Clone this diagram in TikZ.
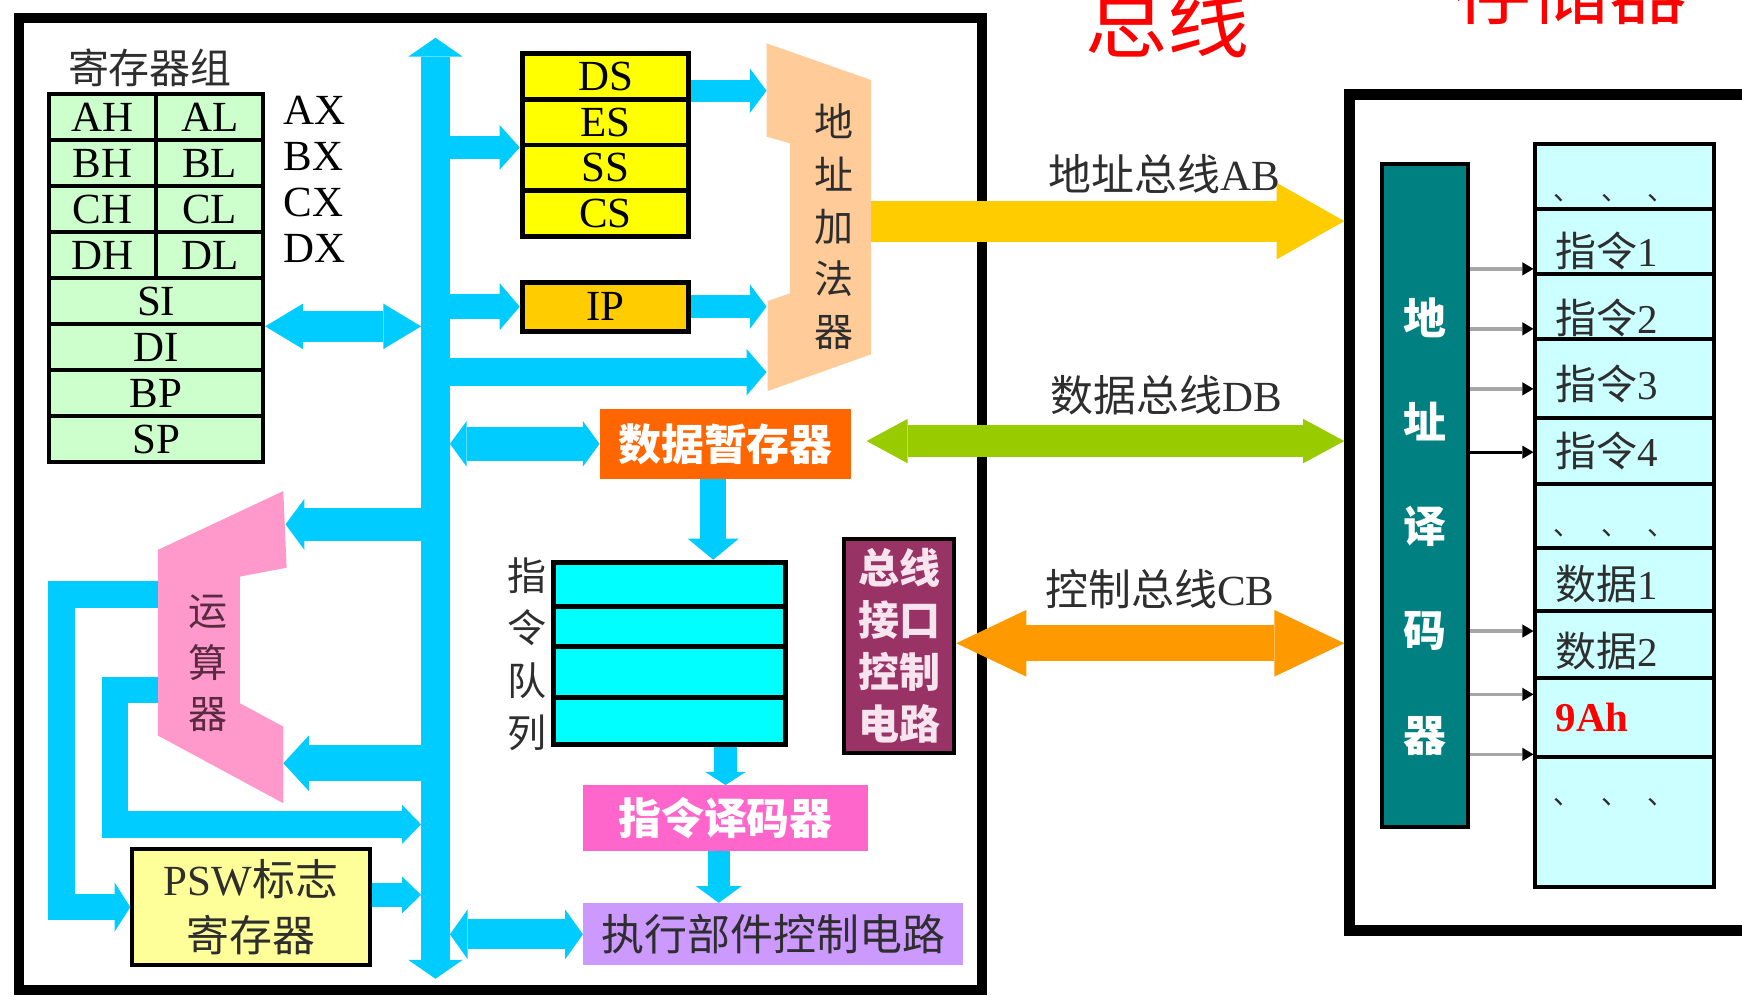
\documentclass[tikz,border=0pt]{standalone}
\usepackage{fontspec}
\setmainfont{Liberation Serif}
\newfontfamily\cjk{Noto Sans CJK SC}
\usetikzlibrary{arrows.meta}

\definecolor{buscyan}{HTML}{00CCFF}
\definecolor{reggreen}{HTML}{CCFFCC}
\definecolor{segyellow}{HTML}{FFFF00}
\definecolor{ipgold}{HTML}{FFCC00}
\definecolor{adderpeach}{HTML}{FFCC99}
\definecolor{alupink}{HTML}{FF99CC}
\definecolor{aluink}{HTML}{5A2A40}
\definecolor{pswyellow}{HTML}{FFFF99}
\definecolor{dregorange}{HTML}{FF6600}
\definecolor{queuecyan}{HTML}{00FFFF}
\definecolor{bicmagenta}{HTML}{993366}
\definecolor{bictext}{HTML}{F8E4EE}
\definecolor{idecpink}{HTML}{FF66CC}
\definecolor{execviolet}{HTML}{CC99FF}
\definecolor{abgold}{HTML}{FFCC00}
\definecolor{dbgreen}{HTML}{99CC00}
\definecolor{cborange}{HTML}{FF9900}
\definecolor{decteal}{HTML}{008080}
\definecolor{cellcyan}{HTML}{CCFFFF}
\definecolor{txtgray}{HTML}{2E2E2E}

\newcommand{\zh}[1]{{\cjk #1}}
\newcommand{\fsz}[2]{\fontsize{#1}{#2}\selectfont}

\begin{document}
\begin{tikzpicture}[x=0.02cm,y=-0.02cm]

    \tikzset{
      blk/.style={inner sep=0pt, align=center},
      reg/.style={blk, draw, line width=2pt, fill=reggreen,
        minimum width=1.93cm, minimum height=0.828cm, font=\fsz{22}{22}},
      widereg/.style={reg, minimum width=3.86cm},
      seg/.style={blk, draw, line width=2.5pt, fill=segyellow,
        minimum width=3cm, minimum height=0.825cm, font=\fsz{22}{22}},
      cell/.style={blk, draw, line width=2pt, fill=cellcyan, minimum width=3.22cm},
      vtext/.style={blk, text=txtgray, font=\cjk\fsz{20}{26.8}},
      buslbl/.style={blk, text=txtgray, font=\fsz{22}{22}},
      onearrow/.style n args={3}{draw=buscyan, line width=#1,
        -{Triangle[length=#2, width=#3, line width=0pt]}},
      twoarrow/.style n args={3}{draw=buscyan, line width=#1,
        {Triangle[length=#2, width=#3, line width=0pt]}-{Triangle[length=#2, width=#3, line width=0pt]}},
      tick/.style={draw=gray!70, line width=0.06cm,
        -{Triangle[length=0.2cm, width=0.24cm, line width=0pt, black]}},
    }

    \useasboundingbox (0,0) rectangle (1568,897);

    % titles
    \node[anchor=base, text=red, font=\cjk\fsz{42}{42}] (tbus) at (1051,46) {总线};
    \node[anchor=base, text=red, font=\cjk\fsz{40}{40}] (tmem) at (1414,17) {存储器};

    % frames
    \node[draw, line width=0.18cm, minimum width=17.34cm, minimum height=17.5cm] (cpu) at (450.5,453.5) {};
    \node[draw, line width=0.2cm, minimum width=7.7cm, minimum height=15.06cm] (mem) at (1407.5,461.5) {};

    % register group
    \node[blk, text=txtgray, font=\cjk\fsz{21}{21}] (rgtitle) at (135,61) {寄存器组};
    \foreach \h/\l/\p [count=\i] in {AH/AL/AX,BH/BL/BX,CH/CL/CX,DH/DL/DX}{
      \node[reg] (\h) at (92.25,{85+41.4*(\i-0.5)}) {\h};
      \node[reg] (\l) at (188.75,{85+41.4*(\i-0.5)}) {\l};
      \node[blk, anchor=west, font=\fsz{22}{22}] (\p) at ([shift={(16,-6)}]\l.east) {\p};
    }
    \foreach \r [count=\i from 5] in {SI,DI,BP,SP}
      \node[widereg] (\r) at (140.5,{85+41.4*(\i-0.5)}) {\r};

    % segment registers
    \foreach \s [count=\i] in {DS,ES,SS,CS}
      \node[seg] (\s) at (545,{48+41.25*(\i-0.5)}) {\s};
    \node[seg, fill=ipgold, minimum height=0.88cm] (IP) at (545,276) {IP};

    % address adder
    \fill[adderpeach] (690,39) -- (784,72) -- (784,319) -- (691,352) -- (691,271)
      -- (711,264) -- (711,129) -- (690,123) -- cycle;
    \node[vtext] (adder) at (751,204) {地\\址\\加\\法\\器};
    \coordinate (adL) at (690,0);
    \coordinate (adR) at (784,199);

    % ALU
    \fill[alupink] (142,495) -- (255,442) -- (258,511) -- (216,519) -- (216,633)
      -- (255,654) -- (255,723) -- (142,662) -- cycle;
    \node[vtext, text=aluink, font=\cjk\fsz{20}{26.5}] (alu) at (187.5,597) {运\\算\\器};
    \coordinate (aluout1) at (142,535);
    \coordinate (aluout2) at (142,621);
    \coordinate (aluin1) at (257,472);
    \coordinate (aluin2) at (255,687);

    % other units
    \node[blk, fill=dregorange, minimum width=4.52cm, minimum height=1.26cm, text=white,
      font=\cjk\bfseries\fsz{22}{22}] (dreg) at (653,399.5) {数据暂存器};
    \node[blk, draw, line width=2.5pt, fill=queuecyan, minimum width=4.18cm,
      minimum height=3.28cm] (queue) at (602.5,588) {};
    \foreach \y in {546,582,628}
      \draw[line width=2.5pt] (queue.west |- 0,\y) -- (queue.east |- 0,\y);
    \node[vtext] (qlbl) at (474,589) {指\\令\\队\\列};
    \node[blk, draw, line width=2pt, fill=bicmagenta, minimum width=1.98cm, minimum height=3.86cm,
      text=bictext, font=\cjk\bfseries\fsz{21}{26.7}] (bic) at (809.5,581.5) {总线\\接口\\控制\\电路};
    \node[blk, fill=idecpink, minimum width=5.12cm, minimum height=1.18cm, text=white,
      font=\cjk\bfseries\fsz{22}{22}] (idec) at (653,736.5) {指令译码器};
    \node[blk, fill=execviolet, minimum width=6.84cm, minimum height=1.12cm, text=txtgray,
      font=\cjk\fsz{22}{22}] (exec) at (696,841) {执行部件控制电路};
    \node[blk, draw, line width=2pt, fill=pswyellow, minimum width=4.28cm, minimum height=2.1cm,
      text=txtgray, font=\fsz{22}{28.5}] (PSW) at (226,816.5) {PSW\zh{标志}\\\zh{寄存器}};

    % internal bus
    \coordinate (bustop) at (392,34);
    \coordinate (busbot) at (392,881);
    \coordinate (busW) at (379,0);
    \coordinate (busE) at (405,0);
    \draw[twoarrow={0.52cm}{0.34cm}{0.98cm}] (bustop) -- (busbot);

    \draw[twoarrow={0.56cm}{0.68cm}{0.82cm}] (SI.south east) -- (busW |- SI.south east);
    \draw[onearrow={0.42cm}{0.36cm}{0.8cm}] (bustop |- ES.south west) -- (ES.south west);
    \draw[onearrow={0.44cm}{0.36cm}{0.84cm}] (bustop |- IP.west) -- (IP.west);
    \coordinate (dsout) at ([shift={(0,13)}]DS.east);
    \draw[onearrow={0.4cm}{0.3cm}{0.8cm}] (dsout) -- (dsout -| adL);
    \draw[onearrow={0.42cm}{0.3cm}{0.8cm}] (IP.east) -- (IP.east -| adL);
    \coordinate (adin) at (690,335);
    \draw[onearrow={0.5cm}{0.36cm}{0.84cm}] (bustop |- adin) -- (adin);
    \draw[twoarrow={0.62cm}{0.3cm}{0.82cm}] (busE |- dreg.west) -- (dreg.west);
    \draw[onearrow={0.46cm}{0.38cm}{0.92cm}] ([shift={(-11,0)}]dreg.south) -- ([shift={(-11,0)}]dreg.south |- queue.north);
    \draw[onearrow={0.4cm}{0.24cm}{0.74cm}] (idec.north |- queue.south) -- (idec.north);
    \draw[onearrow={0.4cm}{0.3cm}{0.82cm}] ([shift={(-6,0)}]idec.south) -- ([shift={(-6,0)}]idec.south |- exec.north);
    \draw[twoarrow={0.54cm}{0.32cm}{0.9cm}] (busE |- exec.west) -- (exec.west);
    \draw[onearrow={0.6cm}{0.34cm}{0.92cm}] (bustop |- aluin1) -- (aluin1);
    \draw[onearrow={0.64cm}{0.46cm}{1.0cm}] (bustop |- aluin2) -- (aluin2);
    \draw[onearrow={0.48cm}{0.28cm}{0.88cm}] (aluout1) -- ++(-86.5,0) |- (PSW.west);
    \draw[onearrow={0.48cm}{0.34cm}{0.7cm}] (aluout2) -- ++(-38.5,0) |- (busW |- 0,742);
    \coordinate (pswout) at ([shift={(0,-11)}]PSW.east);
    \draw[onearrow={0.42cm}{0.34cm}{0.66cm}] (pswout) -- (pswout -| busW);

    % system buses
    \draw[onearrow={0.74cm}{1.22cm}{1.38cm}, draw=abgold] (adR) -- (mem.west |- adR);
    \coordinate (dbL) at (780,397);
    \draw[twoarrow={0.58cm}{0.74cm}{0.8cm}, draw=dbgreen] (dbL) -- (mem.west |- dbL);
    \draw[twoarrow={0.64cm}{1.26cm}{1.2cm}, draw=cborange] (bic.east |- 0,579) -- (mem.west |- 0,579);
    \node[buslbl] (ablbl) at (1048,157) {\zh{地址总线}AB};
    \node[buslbl] (dblbl) at (1050,356) {\zh{数据总线}DB};
    \node[buslbl] (cblbl) at (1044,530) {\zh{控制总线}CB};

    % memory
    \node[blk, draw, line width=2pt, fill=decteal, minimum width=1.54cm,
      minimum height=11.94cm] (dec) at (1282.5,446) {};
    \node[blk, text=white, font=\cjk\bfseries\fsz{22}{53.3}] (dectxt) at (1282.5,474) {地\\址\\译\\码\\器};
    \foreach \t/\b [count=\i] in {130/188,188/247,247/305,305/376,376/436,436/493,493/550,550/610,610/681,681/798}{
      \pgfmathsetmacro\cellh{(\b-\t)*0.02}
      \node[cell, minimum height=\cellh cm] (c\i) at (1462.5,{(\t+\b)/2}) {};
    }
    \foreach \y/\txt [count=\i] in {226/{\zh{指令}1},286/{\zh{指令}2},346/{\zh{指令}3},406/{\zh{指令}4},526/{\zh{数据}1},586/{\zh{数据}2}}
      \node[blk, anchor=west, text=txtgray, font=\fsz{21}{21}] (m\i) at (1400,\y) {\txt};
    \node[blk, anchor=west, text=red, font=\bfseries\fsz{21}{21}] (m7) at (1400,646) {9Ah};
    \foreach \y in {177,479,721}
      \foreach \x in {1405,1448,1489}
        \node[blk, text=txtgray, font=\cjk\fsz{14}{14}] (d\x\y) at (\x+6,\y+1) {、};
    \foreach \y in {242,296,350,568,625,679}
      \draw[tick] (dec.east |- 0,\y) -- (c1.west |- 0,\y);
    \draw[tick, draw=black] (dec.east |- 0,407) -- (c1.west |- 0,407);

\end{tikzpicture}
\end{document}
